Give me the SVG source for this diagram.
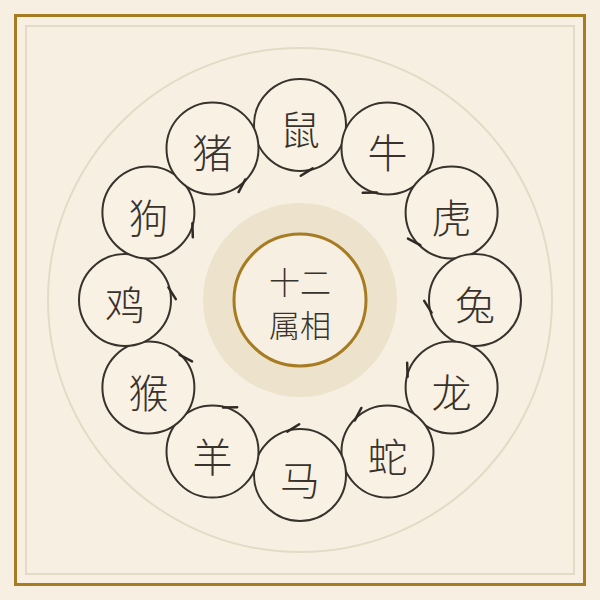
<svg xmlns="http://www.w3.org/2000/svg" width="600" height="600" viewBox="0 0 600 600">
  <style>
    .node circle { fill: #f8f1e4; stroke: #38322c; stroke-width: 2; }
    .node text { font-family: "Noto Sans CJK SC", "Noto Sans CJK TC", sans-serif; font-weight: 300; font-size: 40px; fill: #38322c; text-anchor: middle; dominant-baseline: central; }
    .center text { font-family: "Noto Sans CJK SC", sans-serif; font-weight: 300; font-size: 31px; fill: #38322c; text-anchor: middle; dominant-baseline: central; }
    .barb { fill: none; stroke: #2f2a25; stroke-width: 2.5; stroke-linecap: round; }
  </style>
  <defs>
    <path id="barb" class="barb" d="M300.8,175.8 L312.7,168.4"/>
  </defs>
  <rect x="0" y="0" width="600" height="600" fill="#f7f0e2"/>
  <g id="frame">
    <rect x="15.5" y="15.5" width="569" height="569" fill="none" stroke="#a67b22" stroke-width="3"/>
    <rect x="26" y="26" width="548" height="548" fill="none" stroke="#dad3be" stroke-width="1.5"/>
    <circle cx="300" cy="300" r="252" fill="none" stroke="#e2dbc6" stroke-width="2"/>
  </g>
  <g id="center" class="center">
    <circle cx="300" cy="300" r="97" fill="#ede3cc"/>
    <circle cx="300" cy="300" r="66" fill="#f7f0e2" stroke="#a67b22" stroke-width="3"/>
    <text x="300" y="280">十二</text>
    <text x="300" y="323">属相</text>
  </g>
  <g id="nodes">
    <g id="n-shu" class="node"><circle cx="300" cy="125" r="46"/><text x="300" y="128">鼠</text></g>
    <g id="n-niu" class="node"><circle cx="387.5" cy="148.4" r="46"/><text x="387.5" y="151.4">牛</text></g>
    <g id="n-hu" class="node"><circle cx="451.6" cy="212.5" r="46"/><text x="451.6" y="215.5">虎</text></g>
    <g id="n-tu" class="node"><circle cx="475" cy="300" r="46"/><text x="475" y="303">兔</text></g>
    <g id="n-long" class="node"><circle cx="451.6" cy="387.5" r="46"/><text x="451.6" y="390.5">龙</text></g>
    <g id="n-she" class="node"><circle cx="387.5" cy="451.6" r="46"/><text x="387.5" y="454.6">蛇</text></g>
    <g id="n-ma" class="node"><circle cx="300" cy="475" r="46"/><text x="300" y="478">马</text></g>
    <g id="n-yang" class="node"><circle cx="212.5" cy="451.6" r="46"/><text x="212.5" y="454.6">羊</text></g>
    <g id="n-hou" class="node"><circle cx="148.4" cy="387.5" r="46"/><text x="148.4" y="390.5">猴</text></g>
    <g id="n-ji" class="node"><circle cx="125" cy="300" r="46"/><text x="125" y="303">鸡</text></g>
    <g id="n-gou" class="node"><circle cx="148.4" cy="212.5" r="46"/><text x="148.4" y="215.5">狗</text></g>
    <g id="n-zhu" class="node"><circle cx="212.5" cy="148.4" r="46"/><text x="212.5" y="151.4">猪</text></g>
  </g>
  <g id="connectors">
    <use href="#barb"/>
    <use href="#barb" transform="rotate(30 300 300)"/>
    <use href="#barb" transform="rotate(60 300 300)"/>
    <use href="#barb" transform="rotate(90 300 300)"/>
    <use href="#barb" transform="rotate(120 300 300)"/>
    <use href="#barb" transform="rotate(150 300 300)"/>
    <use href="#barb" transform="rotate(180 300 300)"/>
    <use href="#barb" transform="rotate(210 300 300)"/>
    <use href="#barb" transform="rotate(240 300 300)"/>
    <use href="#barb" transform="rotate(270 300 300)"/>
    <use href="#barb" transform="rotate(300 300 300)"/>
    <use href="#barb" transform="rotate(330 300 300)"/>
  </g>
</svg>
